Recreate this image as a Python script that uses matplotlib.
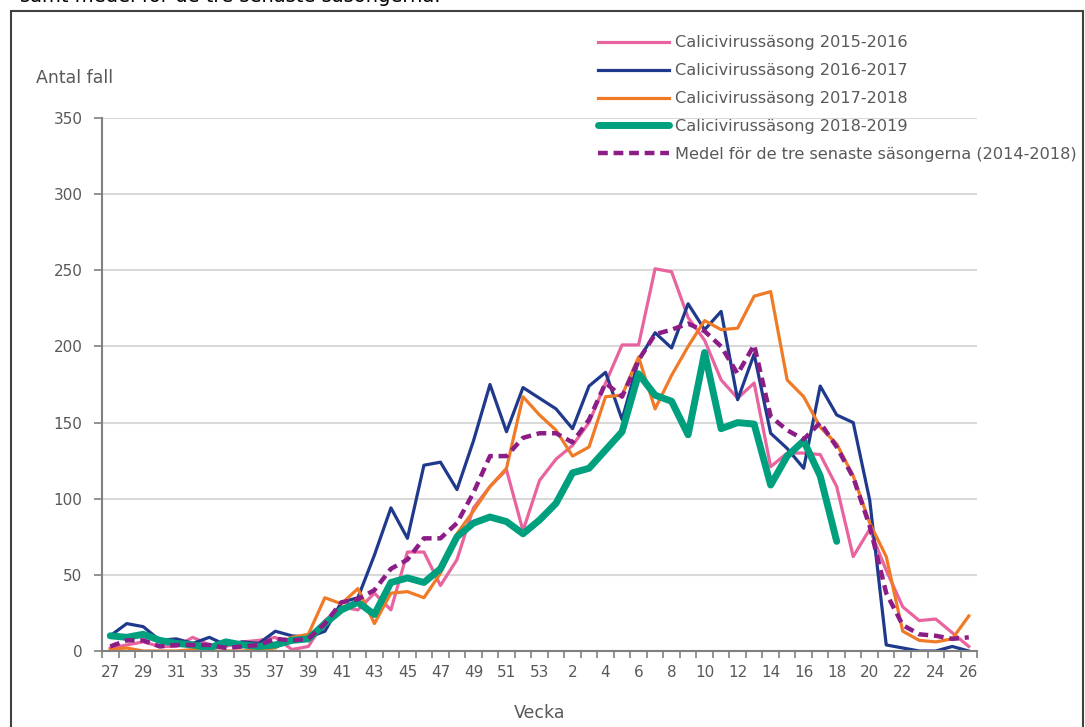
import matplotlib
matplotlib.use("Agg")
import matplotlib.pyplot as plt
from matplotlib.patches import Rectangle
import numpy as np

# weeks of the season, 27..53 then 1..26
weeks = list(range(27, 54)) + list(range(1, 27))

s2015 = [2, 4, 6, 3, 3, 9, 4, 3, 6, 7, 9, 1, 3, 20, 29, 27, 38, 27, 65, 65, 43, 60, 94, 108, 119, 79, 112,
         126, 135, 150, 176, 201, 201, 251, 249, 219, 204, 178, 166, 176, 121, 130, 130, 129, 108, 62, 80,
         53, 29, 20, 21, 12, 3]
s2016 = [10, 18, 16, 7, 8, 5, 9, 4, 6, 5, 13, 10, 9, 13, 32, 35, 63, 94, 74, 122, 124, 106, 138, 175, 144, 173, 166,
         159, 146, 174, 183, 152, 191, 209, 199, 228, 211, 223, 165, 195, 143, 133, 120, 174, 155, 150, 99,
         4, 2, 0, 0, 3, 0]
s2017 = [1, 2, 0, 0, 0, 1, 0, 0, 0, 1, 2, 9, 11, 35, 31, 41, 18, 38, 39, 35, 51, 77, 92, 108, 120, 167, 155,
         145, 128, 134, 167, 168, 193, 159, 181, 200, 217, 211, 212, 233, 236, 178, 167, 147, 136, 115, 84,
         62, 13, 7, 6, 8, 23]
s2018 = [10, 9, 11, 7, 5, 4, 2, 6, 4, 3, 4, 7, 8, 18, 27, 32, 24, 45, 48, 45, 54, 75, 84, 88, 85, 77, 86,
         97, 117, 120, 132, 144, 182, 168, 164, 142, 196, 146, 150, 149, 109, 128, 138, 115, 72]
medel = [3, 7, 7, 3, 4, 4, 4, 2, 3, 4, 8, 7, 8, 18, 32, 34, 40, 54, 60, 74, 74, 84, 104, 128, 128, 140, 143,
         143, 137, 152, 176, 167, 191, 208, 211, 215, 210, 200, 182, 201, 154, 145, 139, 150, 134, 114, 82,
         38, 17, 11, 10, 8, 9]

labels = ["Calicivirussäsong 2015-2016", "Calicivirussäsong 2016-2017", "Calicivirussäsong 2017-2018",
          "Calicivirussäsong 2018-2019", "Medel för de tre senaste säsongerna (2014-2018)"]

grey = "#595959"
plt.rcParams["font.family"] = ["DejaVu Sans"]

fig = plt.figure(figsize=(10.85, 7.27), dpi=100)
ax = fig.add_axes([0.094, 0.1045, 0.8065, 0.7332])

x = np.arange(len(weeks))
ax.plot(x, s2015, color="#E8649F", lw=2.3, label=labels[0])
ax.plot(x, s2016, color="#1F3A8C", lw=2.3, label=labels[1])
ax.plot(x, s2017, color="#F07A26", lw=2.3, label=labels[2])
ax.plot(x[:len(s2018)], s2018, color="#00A07E", lw=5, label=labels[3], solid_capstyle="round")
ax.plot(x, medel, color="#8C1C86", lw=3.2, ls=(0, (2.2, 1.3)), label=labels[4])

ax.set_xlim(-0.5, len(weeks) - 0.5)
ax.set_ylim(0, 350)
ax.set_yticks(range(0, 351, 50))
ax.set_xticks(x[::2])
ax.set_xticklabels([str(w) for w in weeks[::2]])
ax.set_xticks(np.arange(-0.5, len(weeks), 1), minor=True)
ax.tick_params(axis="x", which="major", length=0, pad=10, labelsize=11, labelcolor=grey)
ax.tick_params(axis="x", which="minor", length=5, color="#808080", width=1.2)
ax.tick_params(axis="y", length=6, color="#808080", width=1.2, labelsize=11, labelcolor=grey, pad=8)

ax.grid(axis="y", color="#d9d9d9", lw=1.5)
ax.set_axisbelow(True)
for side in ["top", "right"]:
    ax.spines[side].set_visible(False)
for side in ["left", "bottom"]:
    ax.spines[side].set_color("#808080")
    ax.spines[side].set_linewidth(1.5)

ax.set_xlabel("Vecka", fontsize=12.5, color=grey, labelpad=17)
fig.text(36 / 1085, 1 - 78 / 727, "Antal fall", fontsize=12.5, color=grey, va="center", ha="left")

leg = ax.legend(loc="upper left", bbox_to_anchor=(592 / 1085, 1 - 29 / 727), bbox_transform=fig.transFigure,
                frameon=False, fontsize=11.6, handlelength=4.35, handletextpad=0.4, labelspacing=0.8,
                borderaxespad=0)
for t in leg.get_texts():
    t.set_color(grey)

# chart frame and cut-off heading
fig.patches.append(Rectangle((11 / 1085, -0.05), 1072 / 1085, 1.05 - 11 / 727, transform=fig.transFigure,
                             fill=False, edgecolor="#404040", lw=1.5))
fig.text(20 / 1085, 1 - 2 / 727, "samt medel för de tre senaste säsongerna.", fontsize=14, color="#000000",
         va="baseline", ha="left")

fig.savefig("out.png", dpi=100)
